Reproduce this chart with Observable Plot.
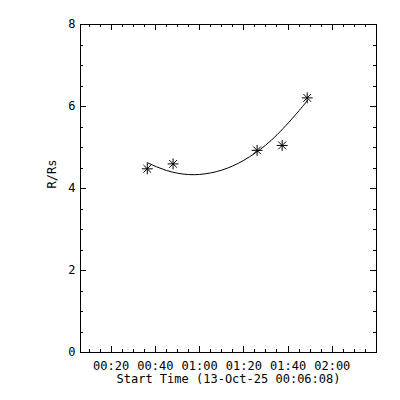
<!DOCTYPE html>
<html><head><meta charset="utf-8">
<script src="https://cdn.jsdelivr.net/npm/d3@7"></script>
<script src="https://cdn.jsdelivr.net/npm/@observablehq/plot@0.6"></script>
<style>
body{margin:0;background:#fff;}
svg{font-family:"DejaVu Sans Mono";}
</style>
</head><body><div id="chart"></div>
<script>
const day = "2025-10-13";
const xDomainTimes = ["00:06:08", "02:20:00"];
const yDomain = [0, 8];
const obsTimes = ["00:36:20", "00:48:00", "01:26:00", "01:37:20", "01:48:40"];
const obsHeights = [4.48, 4.60, 4.93, 5.05, 6.21];
const fitTimes = ["00:36:18", "00:45:00", "00:55:00", "01:05:00", "01:15:00", "01:25:00", "01:35:00", "01:45:00", "01:48:42"];
const fitHeights = [4.63, 4.44, 4.34, 4.38, 4.55, 4.86, 5.31, 5.90, 6.15];
const xMajorTicks = ["00:20", "00:40", "01:00", "01:20", "01:40", "02:00"];
const xMinorTicks = ["00:10", "00:15", "00:25", "00:30", "00:35", "00:45", "00:50", "00:55",
  "01:05", "01:10", "01:15", "01:25", "01:30", "01:35", "01:45", "01:50", "01:55",
  "02:05", "02:10", "02:15"];
const yMajorTicks = [0, 2, 4, 6, 8];
const yMinorTicks = [0.5, 1, 1.5, 2.5, 3, 3.5, 4.5, 5, 5.5, 6.5, 7, 7.5];
const xTitle = "Start Time (13-Oct-25 00:06:08)";
const yTitle = "R/Rs";

const t = s => new Date(`${day}T${s.length === 5 ? s + ":00" : s}Z`);
const obs = obsTimes.map((s, i) => ({time: t(s), h: obsHeights[i]}));
const fit = fitTimes.map((s, i) => ({time: t(s), h: fitHeights[i]}));

const W = 400, H = 400, mL = 80, mR = 24, mT = 24, mB = 48;
const iW = W - mL - mR, iH = H - mT - mB;
const big = 6, small = 3;
const tickStyle = {stroke: "#000", strokeWidth: 1, shapeRendering: "crispEdges"};

const chart = Plot.plot({
  width: W, height: H,
  marginLeft: mL, marginRight: mR, marginTop: mT, marginBottom: mB,
  style: {background: "#fff", fontFamily: "DejaVu Sans Mono", fontSize: "12px", color: "#000"},
  x: {type: "utc", domain: xDomainTimes.map(t)},
  y: {domain: yDomain},
  marks: [
    Plot.frame({stroke: "#000", shapeRendering: "crispEdges"}),
    Plot.ruleX(xMajorTicks.map(t), {...tickStyle, insetTop: iH - big}),
    Plot.ruleX(xMajorTicks.map(t), {...tickStyle, insetBottom: iH - big}),
    Plot.ruleX(xMinorTicks.map(t), {...tickStyle, insetTop: iH - small}),
    Plot.ruleX(xMinorTicks.map(t), {...tickStyle, insetBottom: iH - small}),
    Plot.ruleY(yMajorTicks, {...tickStyle, insetRight: iW - big}),
    Plot.ruleY(yMajorTicks, {...tickStyle, insetLeft: iW - big}),
    Plot.ruleY(yMinorTicks, {...tickStyle, insetRight: iW - small}),
    Plot.ruleY(yMinorTicks, {...tickStyle, insetLeft: iW - small}),
    Plot.axisX({ticks: xMajorTicks.map(t), tickFormat: d3.utcFormat("%H:%M"), tickSize: 0, tickPadding: 9, label: null, fill: "#000"}),
    Plot.axisY({ticks: yMajorTicks, tickFormat: d => String(d), tickSize: 0, tickPadding: 5, label: null, fill: "#000"}),
    Plot.text([xTitle], {frameAnchor: "bottom", dy: 30, fill: "#000"}),
    Plot.text([yTitle], {frameAnchor: "left", rotate: -90, dx: -28, fill: "#000"}),
    Plot.line(fit, {x: "time", y: "h", curve: "natural", stroke: "#000", strokeWidth: 1}),
    Plot.dot(obs, {x: "time", y: "h", symbol: "plus", r: 3.6, stroke: "#000", strokeWidth: 1}),
    Plot.dot(obs, {x: "time", y: "h", symbol: "times", r: 3.6, stroke: "#000", strokeWidth: 1})
  ]
});
document.getElementById("chart").append(chart);
</script>
</body></html>
